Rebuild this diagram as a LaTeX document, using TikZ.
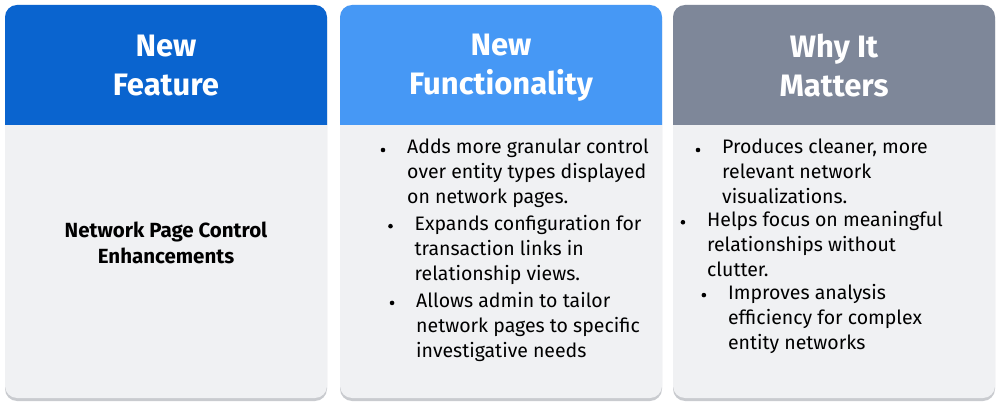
\documentclass[tikz,border=0pt]{standalone}
\usepackage{fontspec}
\setmainfont{Fira Sans}
\usetikzlibrary{positioning}
\definecolor{featblue}{HTML}{0A64CF}
\definecolor{funcblue}{HTML}{4698F5}
\definecolor{whygray}{HTML}{7E8799}
\definecolor{cardbg}{HTML}{F0F1F3}
\definecolor{shadowgray}{HTML}{C9CBCF}
\begin{document}
\begin{tikzpicture}[
    x=1pt, y=-1pt,
    head/.style={text=white, font=\fontsize{31}{39}\selectfont\bfseries, align=center},
    body/.style={text=black, font=\fontsize{19.5}{25}\selectfont, align=left, anchor=north west, inner sep=0pt}
]
    \useasboundingbox (0,0) rectangle (999,406);
    % cards
    \foreach \x/\c in {5/featblue, 340/funcblue, 673/whygray} {
        \fill[shadowgray, rounded corners=12pt] (\x,9) rectangle (\x+322,401);
        \fill[cardbg, rounded corners=12pt] (\x,5) rectangle (\x+322,398);
        \fill[\c] (\x,125) [rounded corners=12pt] -- (\x,5) -- (\x+322,5) [sharp corners] -- (\x+322,125) -- cycle;
    }
    \node[head] (feat) at (166,66) {New\\Feature};
    \node[head] (func) at (501,68) {New\\Functionality};
    \node[head] (why) at (834,66) {Why It\\Matters};

    \node[font=\fontsize{20.5}{26}\selectfont\bfseries, align=center] (name) at (166,243) {Network Page Control\\Enhancements};

    \node[body] (funcA) at (407,139) {Adds more granular control\\over entity types displayed\\on network pages.};
    \node[body, below=7pt of funcA] (funcB) {Expands configuration for\\transaction links in\\relationship views.};
    \node[body, below=7pt of funcB] (funcC) {Allows admin to tailor\\network pages to specific\\investigative needs};
    \node[body] (whyA) at (722,139) {Produces cleaner, more\\relevant network\\visualizations.};
    \node[body, below=7pt of whyA] (whyB) {Helps focus on meaningful\\relationships without\\clutter.};
    \node[body, below=7pt of whyB] (whyC) {Improves analysis\\efficiency for complex\\entity networks};
    \foreach \n in {funcA, funcB, funcC, whyA, whyB, whyC}
        \fill ([xshift=-24pt, yshift=-11pt]\n.north west) circle (2.3pt);
\end{tikzpicture}
\end{document}
